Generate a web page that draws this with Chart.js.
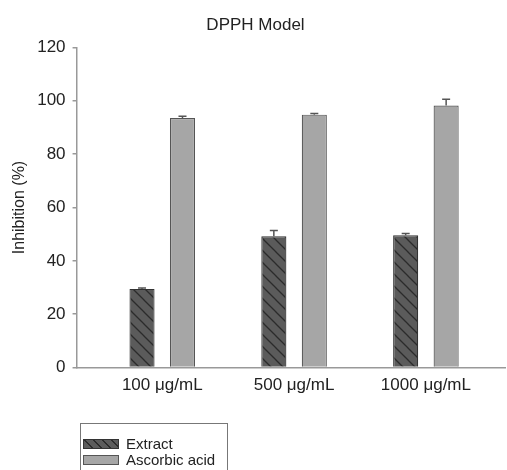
<!DOCTYPE html>
<html>
<head>
<meta charset="utf-8">
<script src="https://cdn.jsdelivr.net/npm/chart.js@4.4.1/dist/chart.umd.min.js"></script>
<style>
  html, body { margin: 0; padding: 0; background: #fff; }
  #wrap { position: relative; width: 507px; height: 470px; overflow: hidden; }
  #legend {
    position: absolute; left: 80px; top: 423px; width: 146px; height: 60px;
    border: 1.5px solid #777; font-family: "Liberation Sans", Arial, sans-serif;
    font-size: 15px; color: #222;
  }
  .row { position: absolute; left: 2px; height: 16px; line-height: 16px; white-space: nowrap; }
  .sw { display: inline-block; width: 34px; height: 8px; vertical-align: middle; margin-right: 7px; position: relative; top: -1px; }
</style>
</head>
<body>
<div id="wrap">
  <canvas id="chart" width="507" height="470"></canvas>
  <div id="legend"></div>
</div>
<script>
// data
const categories = ['100 \u03bcg/mL', '500 \u03bcg/mL', '1000 \u03bcg/mL'];
const seriesNames = ['Extract', 'Ascorbic acid'];
const extractValues = [29.5, 49.2, 49.6];
const extractErrors = [0.3, 2.2, 0.7];
const ascorbicValues = [93.5, 94.8, 98.2];
const ascorbicErrors = [0.7, 0.4, 2.4];
const yMax = 120;
const yStep = 20;

// hatch pattern for the extract bars
function hatch() {
  const c = document.createElement('canvas');
  c.width = 12; c.height = 12;
  const g = c.getContext('2d');
  g.fillStyle = '#5b5b5b';
  g.fillRect(0, 0, 12, 12);
  g.strokeStyle = '#2b2b2b';
  g.lineWidth = 1.3;
  g.beginPath();
  g.moveTo(-2, -2); g.lineTo(14, 14);
  g.moveTo(-2, 10); g.lineTo(2, 14);
  g.moveTo(10, -2); g.lineTo(14, 2);
  g.stroke();
  return g.createPattern(c, 'repeat');
}

const ctx = document.getElementById('chart').getContext('2d');

const toPoints = vals => vals.map((v, i) => ({ x: i, y: v }));

// draw upward error bars from the y scale
const errorBars = {
  id: 'errorBars',
  afterDatasetsDraw(chart) {
    const g = chart.ctx;
    const y = chart.scales.y;
    chart.data.datasets.forEach((ds, di) => {
      const meta = chart.getDatasetMeta(di);
      meta.data.forEach((bar, i) => {
        const top = y.getPixelForValue(ds.data[i].y + ds.errors[i]);
        g.save();
        g.strokeStyle = '#555';
        g.lineWidth = 1.5;
        g.beginPath();
        g.moveTo(bar.x, bar.y);
        g.lineTo(bar.x, top);
        g.moveTo(bar.x - 4, top);
        g.lineTo(bar.x + 4, top);
        g.stroke();
        g.restore();
      });
    });
  }
};

Chart.defaults.font.family = '"Liberation Sans", Arial, sans-serif';
Chart.defaults.color = '#222';

const chart = new Chart(ctx, {
  type: 'bar',
  plugins: [errorBars],
  data: {
    datasets: [
      {
        label: seriesNames[0],
        data: toPoints(extractValues),
        errors: extractErrors,
        backgroundColor: hatch(),
        borderColor: '#333',
        borderWidth: 1.2,
        categoryPercentage: 0.614,
        barPercentage: 0.62
      },
      {
        label: seriesNames[1],
        data: toPoints(ascorbicValues),
        errors: ascorbicErrors,
        backgroundColor: '#a6a6a6',
        borderColor: '#555',
        borderWidth: 1.2,
        categoryPercentage: 0.614,
        barPercentage: 0.62
      }
    ]
  },
  options: {
    responsive: false,
    animation: false,
    layout: { padding: { left: 6, right: 2, bottom: 74, top: 0 } },
    plugins: {
      legend: { display: false },
      tooltip: { enabled: false },
      title: {
        display: true,
        text: 'DPPH Model',
        font: { size: 17, weight: 'normal' },
        color: '#222',
        padding: { top: 15, bottom: 12 }
      }
    },
    scales: {
      x: {
        type: 'linear',
        min: -0.65,
        max: 2.6,
        offset: false,
        afterBuildTicks: s => { s.ticks = categories.map((c, i) => ({ value: i })); },
        ticks: {
          callback: v => categories[v],
          autoSkip: false,
          maxRotation: 0,
          padding: 0,
          font: { size: 17 }
        },
        grid: { display: false },
        border: { color: '#999', width: 1.5 }
      },
      y: {
        min: 0,
        max: yMax,
        ticks: { stepSize: yStep, padding: 7, font: { size: 17 } },
        grid: { drawOnChartArea: false, tickLength: 4, color: '#999', lineWidth: 1.5 },
        border: { color: '#999', width: 1.5 },
        title: {
          display: true,
          text: 'Inhibition (%)',
          font: { size: 16 },
          padding: { top: 4, bottom: 1 }
        }
      }
    }
  }
});

// legend built from the datasets
const legend = document.getElementById('legend');
chart.data.datasets.forEach((ds, i) => {
  const row = document.createElement('div');
  row.className = 'row';
  row.style.top = (12 + i * 16) + 'px';
  const sw = document.createElement('span');
  sw.className = 'sw';
  if (i === 0) {
    sw.style.background = 'repeating-linear-gradient(45deg, #5b5b5b 0 5px, #2b2b2b 5px 6.5px)';
    sw.style.border = '1px solid #333';
  } else {
    sw.style.background = ds.backgroundColor;
    sw.style.border = '1px solid #555';
  }
  row.appendChild(sw);
  row.appendChild(document.createTextNode(ds.label));
  legend.appendChild(row);
});
</script>
</body>
</html>
